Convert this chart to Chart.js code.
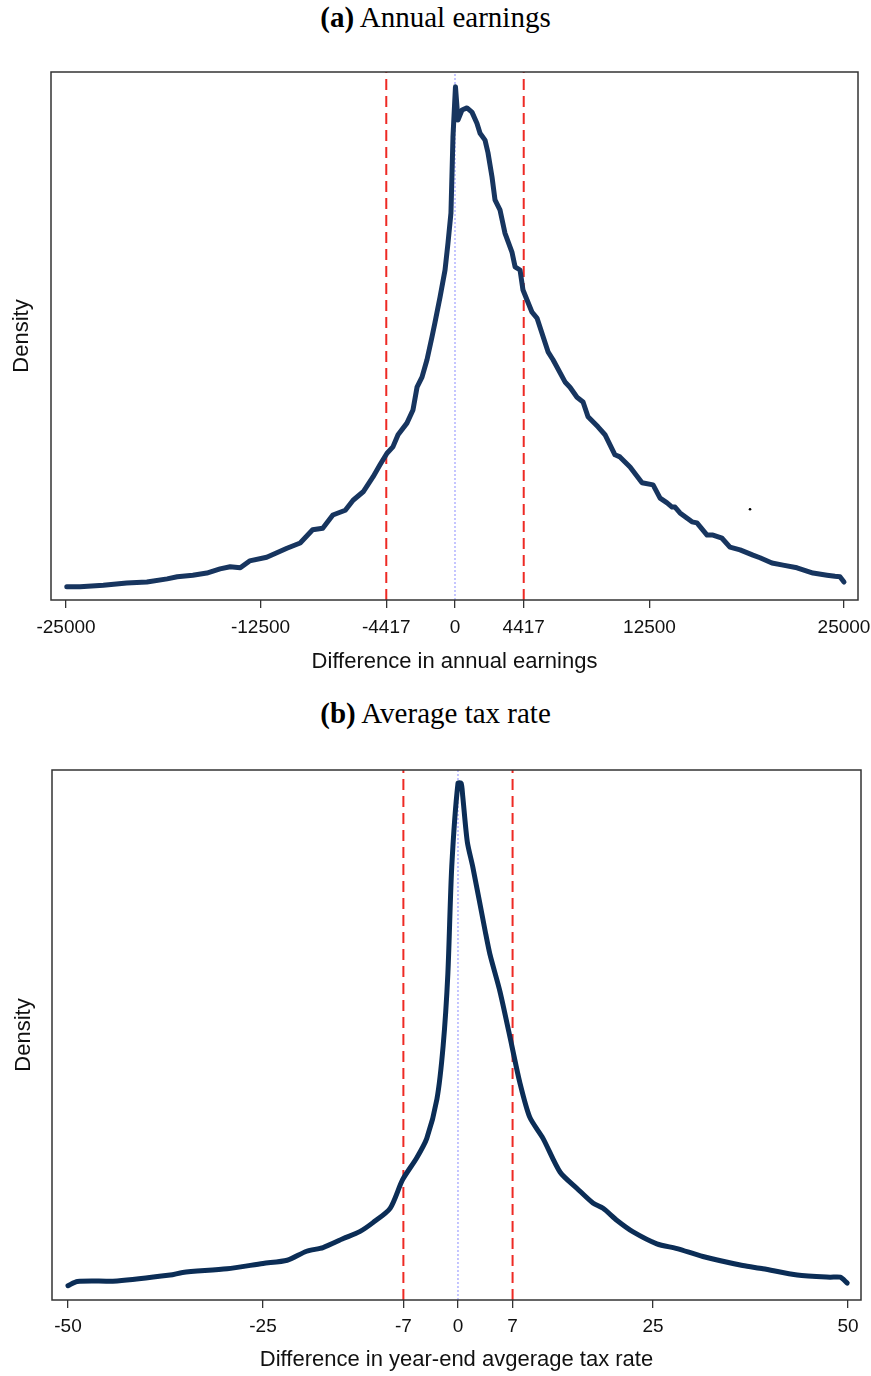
<!DOCTYPE html>
<html>
<head>
<meta charset="utf-8">
<script src="https://cdn.jsdelivr.net/npm/chart.js@4/dist/chart.umd.min.js"></script>
<style>
  body { margin: 0; background: #fff; width: 871px; height: 1376px; position: relative; overflow: hidden; }
  .cap { position: absolute; left: 0; width: 871px; text-align: center; font-family: "Liberation Serif", "Times New Roman", serif; font-size: 29px; line-height: 33px; color: #000; }
  canvas { position: absolute; left: 0; }
</style>
</head>
<body>
<div class="cap" style="top:1px"><b>(a)</b> Annual earnings</div>
<canvas id="chartA" width="871" height="652" style="top:40px"></canvas>
<div class="cap" style="top:697px"><b>(b)</b> Average tax rate</div>
<canvas id="chartB" width="871" height="636" style="top:740px"></canvas>
<script>
// Panel (a): difference in annual earnings (density, arbitrary units)
const earnX = [-24950, -24100, -22600, -21100, -19800, -18500, -17850, -16850, -15950, -15100,
    -14450, -13800, -13200, -12100, -10800, -9950, -9150, -8500, -7850, -7050,
    -6550, -5900, -5270, -4820, -4370, -3990, -3660, -3090, -2700, -2440,
    -2120, -1800, -1480, -1290, -960, -640, -450, -260, -130, 30,
    190, 450, 770, 1090, 1410, 1610, 1930, 2120, 2380, 2570,
    2890, 3210, 3660, 3860, 4180, 4370, 4950, 5270, 5980, 6300,
    7070, 7390, 7840, 8230, 8550, 9190, 9640, 10280, 10600, 11250,
    12020, 12730, 13180, 13630, 13950, 14140, 14460, 15230, 15550, 16200,
    16580, 17160, 17670, 18320, 19150, 19600, 20370, 21080, 21980, 23010,
    23910, 24420, 24740, 25000];
const earnY = [2.5, 2.5, 2.8, 3.2, 3.4, 4.0, 4.4, 4.7, 5.1, 5.9,
    6.3, 6.1, 7.4, 8.1, 9.8, 10.8, 13.3, 13.6, 16.1, 17.0,
    18.9, 20.5, 23.3, 25.6, 27.8, 29.0, 31.3, 33.5, 36.0, 40.3,
    42.2, 45.5, 49.8, 52.5, 57.4, 62.5, 67.6, 73.3, 87.7, 97.2,
    90.9, 92.8, 93.2, 92.4, 90.3, 88.4, 87.1, 84.7, 80.1, 75.8,
    73.9, 69.5, 65.9, 63.1, 62.5, 58.7, 54.5, 53.4, 47.0, 45.5,
    41.3, 40.3, 38.4, 37.5, 34.7, 32.8, 31.3, 27.5, 27.1, 25.2,
    22.2, 21.8, 19.3, 18.4, 17.6, 17.6, 16.5, 14.8, 14.6, 12.3,
    12.3, 11.7, 10.0, 9.5, 8.5, 8.0, 7.0, 6.6, 6.1, 5.1,
    4.7, 4.5, 4.4, 3.4];
const earnCut = [-4417, 4417];
const earnTicks = [-25000, -12500, -4417, 0, 4417, 12500, 25000];
const earnSpeck = [{ x: 18960, y: 17.2 }];

// Panel (b): difference in year-end average tax rate
const taxX = [-50, -48.8, -43.7, -36.9, -35.3, -29.6, -25, -21.9, -19.4, -17.3, -14.7, -12.6, -10.9, -8.7, -7.1, -5.3, -4.0, -2.7, -1.9, -1.3, -0.8, 0, 0.4, 0.6, 1.2, 1.9, 3.5, 4.1, 5.4, 6.9, 7.9, 9.2, 10.9, 13.1, 15.3, 17.3, 18.6, 20.4, 22.4, 25.5, 28.1, 31.4, 36.5, 39.1, 43.5, 47.7, 49.0, 49.9];
const taxY = [2.7, 3.5, 3.6, 4.7, 5.2, 5.9, 6.9, 7.5, 9.2, 9.9, 11.6, 12.9, 14.6, 17.3, 22.7, 26.8, 30.5, 37.9, 48.0, 61.5, 81.7, 97.5, 97.5, 95.2, 86.4, 81.7, 69.5, 65.2, 58.1, 48.0, 41.2, 34.5, 30.5, 24.1, 21.0, 18.3, 17.3, 15.0, 12.9, 10.6, 9.7, 8.2, 6.5, 5.9, 4.7, 4.3, 4.3, 3.2];
const taxCut = [-7, 7];
const taxTicks = [-50, -25, -7, 0, 7, 25, 50];

// box around plot region, like Stata's plotregion outline
const frame = {
    id: 'frame',
    afterDraw(chart) {
        const a = chart.chartArea;
        const ctx = chart.ctx;
        ctx.save();
        ctx.strokeStyle = '#333';
        ctx.lineWidth = 1.5;
        ctx.strokeRect(a.left, a.top, a.right - a.left, a.bottom - a.top);
        ctx.restore();
    }
};

function vline(x, color, width, dash) {
    return {
        data: [{ x: x, y: 0 }, { x: x, y: 100 }],
        borderColor: color, borderWidth: width, borderDash: dash,
        pointRadius: 0, tension: 0, order: 2
    };
}

function makeChart(id, s) {
    const curve = s.xs.map((x, i) => ({ x: x, y: s.ys[i] }));
    const datasets = [
        {
            data: curve, borderColor: s.color, borderWidth: 5,
            pointRadius: 0, tension: s.tension, borderJoinStyle: 'round', borderCapStyle: 'round', order: 1
        },
        vline(0, '#8a8cff', 1, [2, 2]),
        vline(s.cut[0], '#ee2a24', 2, [11, 6]),
        vline(s.cut[1], '#ee2a24', 2, [11, 6])
    ];
    if (s.extra) {
        datasets.push({ type: 'scatter', data: s.extra, pointRadius: 1.3, backgroundColor: '#000', borderWidth: 0 });
    }
    return new Chart(document.getElementById(id), {
        type: 'line',
        data: { datasets: datasets },
        plugins: [frame],
        options: {
            responsive: false,
            animation: false,
            events: [],
            layout: { padding: { top: s.padTop, right: s.padRight, left: 0, bottom: 0 } },
            plugins: { legend: { display: false }, tooltip: { enabled: false } },
            scales: {
                x: {
                    type: 'linear', min: s.min, max: s.max,
                    afterBuildTicks: (sc) => { sc.ticks = s.ticks.map(v => ({ value: v })); },
                    afterFit: (sc) => {
                        sc.height = s.xHeight;
                        // labels may hang past the plot edge, keep the box where it is
                        sc.paddingLeft = 0;
                        sc.paddingRight = 0;
                    },
                    grid: { drawOnChartArea: false, drawTicks: true, tickLength: 8, color: '#333', lineWidth: 1.3 },
                    border: { display: false },
                    ticks: {
                        autoSkip: false, maxRotation: 0, minRotation: 0, padding: s.tickPad, color: '#111',
                        font: { family: '"Liberation Sans", Arial, sans-serif', size: 19 },
                        callback: (v) => String(v)
                    },
                    title: {
                        display: true, text: s.xTitle, color: '#111',
                        font: { family: '"Liberation Sans", Arial, sans-serif', size: 22 },
                        padding: { top: 0, bottom: s.titlePad }
                    }
                },
                y: {
                    min: 0, max: 100,
                    afterFit: (sc) => { sc.width = s.yWidth; },
                    grid: { display: false },
                    border: { display: false },
                    ticks: { display: false },
                    title: {
                        display: true, text: 'Density', color: '#111',
                        font: { family: '"Liberation Sans", Arial, sans-serif', size: 22 },
                        padding: { top: s.yTitlePad, bottom: 0 }
                    }
                }
            }
        }
    });
}

makeChart('chartA', {
    xs: earnX, ys: earnY, cut: earnCut, ticks: earnTicks, extra: earnSpeck,
    color: '#17355f', tension: 0,
    min: -25964, max: 25900,
    padTop: 32, padRight: 13, xHeight: 92, yWidth: 51,
    tickPad: 8, titlePad: 17, yTitlePad: 9,
    xTitle: 'Difference in annual earnings'
});

makeChart('chartB', {
    xs: taxX, ys: taxY, cut: taxCut, ticks: taxTicks,
    color: '#0b2d56', tension: 0.25,
    min: -52.05, max: 51.67,
    padTop: 30, padRight: 10, xHeight: 76, yWidth: 52,
    tickPad: 7, titlePad: 3, yTitlePad: 11,
    xTitle: 'Difference in year-end avgerage tax rate'
});
</script>
</body>
</html>
